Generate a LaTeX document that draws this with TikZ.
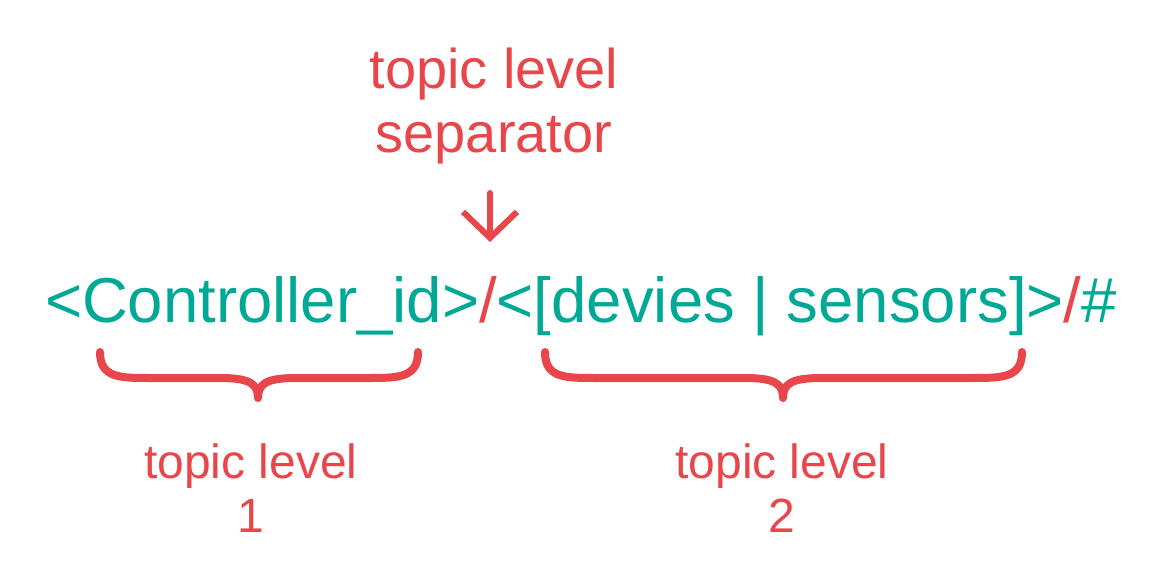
\documentclass[tikz,border=0pt]{standalone}
\usepackage{fontspec}
\setmainfont{Liberation Sans}
\usetikzlibrary{arrows.meta}
\definecolor{topicteal}{HTML}{00A896}
\definecolor{topicred}{HTML}{E8464A}

\begin{document}
\begin{tikzpicture}[x=1pt,y=-1pt,
  labeltext/.style={text=topicred,align=center,inner sep=0pt,anchor=base},
  curly/.style={draw=topicred,line width=8pt,line cap=round,line join=round}]
\useasboundingbox (0,0) rectangle (1171,586);

% topic string
\node[text=topicteal,inner sep=0pt,anchor=base,font=\fontsize{63.5}{76}\selectfont] (topic) at (581,322)
  {<Controller\_id>\textcolor{topicred}{/}<[devies | sensors]>\textcolor{topicred}{/}\#};

% labels (anchored at the baseline of their last line)
\node[labeltext,font=\fontsize{56}{64}\selectfont] (sep) at (494,152) {topic level\\separator};
\node[labeltext,font=\fontsize{48}{54}\selectfont] (lvl1) at (251,532) {topic level\\1};
\node[labeltext,font=\fontsize{48}{54}\selectfont] (lvl2) at (782,532) {topic level\\2};

% arrow to the separator
\coordinate (arrtop) at (490,193);
\coordinate (arrtip) at (490,242);
\draw[topicred,line width=6pt,line cap=round,line join=round,
  -{Straight Barb[length=26pt,width=54pt]}] (arrtop) -- (arrtip);

% braces
\draw[curly] (100,352) .. controls (100,378) and (120,378) .. (150,378) -- (220,378)
  .. controls (250,378) and (258,384) .. (258,398)
  .. controls (258,384) and (266,378) .. (296,378) -- (368,378)
  .. controls (398,378) and (418,378) .. (418,352);
\draw[curly] (545,352) .. controls (545,378) and (565,378) .. (595,378) -- (745,378)
  .. controls (775,378) and (783,384) .. (783,398)
  .. controls (783,384) and (791,378) .. (821,378) -- (972,378)
  .. controls (1002,378) and (1022,378) .. (1022,352);
\end{tikzpicture}
\end{document}
